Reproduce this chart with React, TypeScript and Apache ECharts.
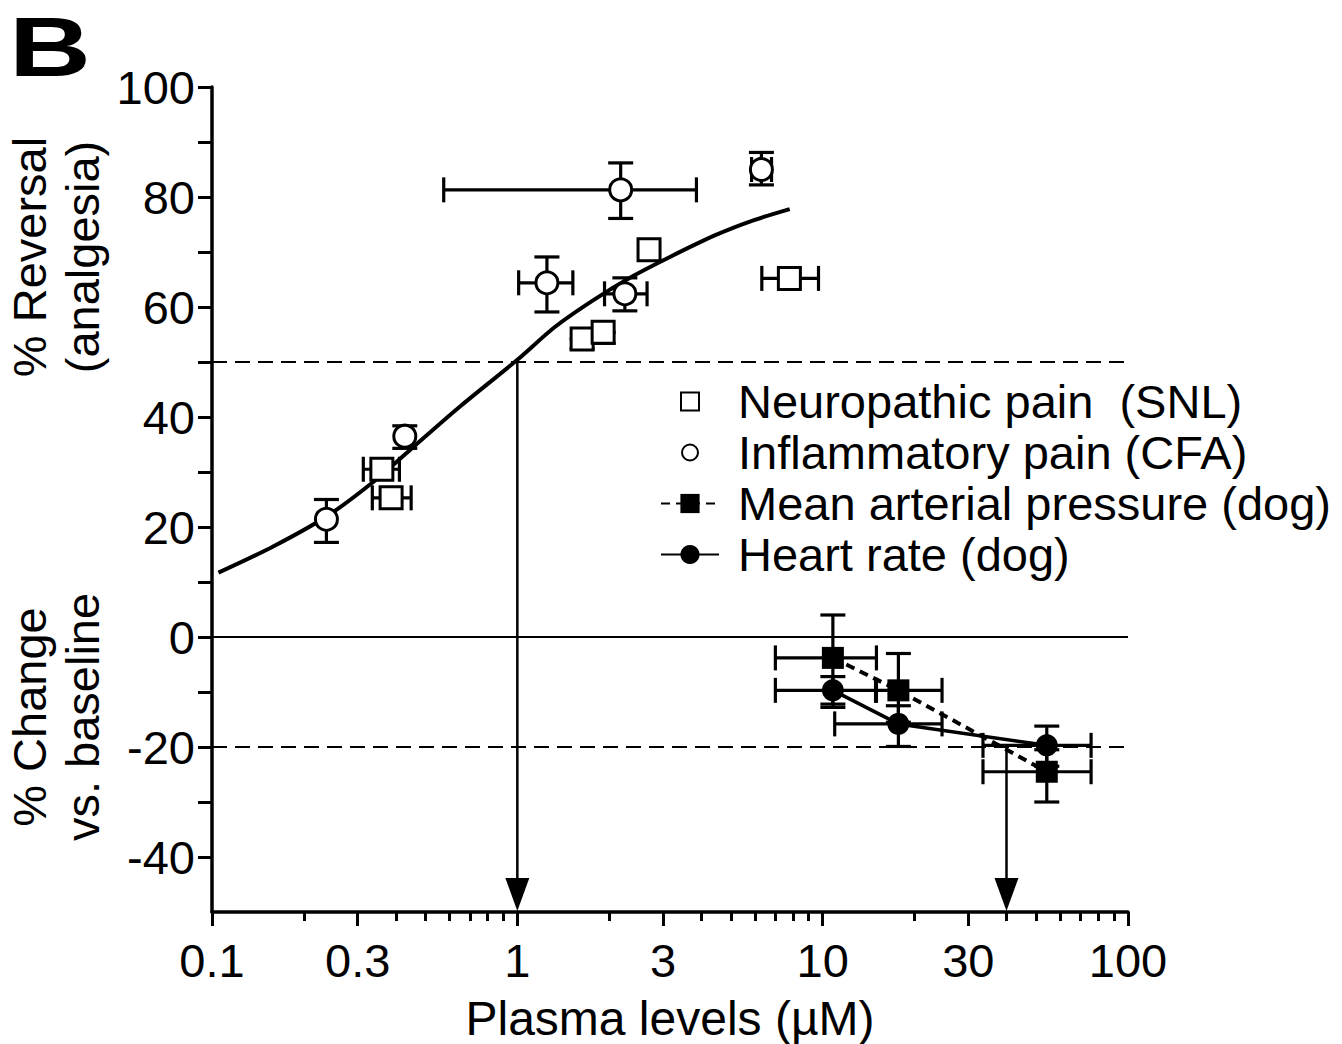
import React, { useEffect, useRef } from "react";
import * as echarts from "echarts";

const FONT = '"Liberation Sans", Arial, Helvetica, sans-serif';

// ---- axes ----
const xMin = 0.1;
const xMax = 100;
const yMin = -50;
const yMax = 100;
const xTickValues = [0.1, 0.3, 1, 3, 10, 30, 100];
const xMinorTickValues = [0.2, 0.4, 0.5, 0.6, 0.7, 0.8, 0.9, 2, 4, 5, 6, 7, 8, 9, 20, 40, 50, 60, 70, 80, 90];
const yTickValues = [-40, -30, -20, -10, 0, 10, 20, 30, 40, 50, 60, 70, 80, 90, 100];
const yLabelValues = [-40, -20, 0, 20, 40, 60, 80, 100];

// ---- fitted curve ----
const curveX = [0.105, 0.158, 0.237, 0.334, 0.447, 0.649, 1.0, 1.33, 1.78, 2.37, 3.16, 4.47, 5.96, 7.8];
const curveY = [11.7, 16.4, 21.9, 28.0, 34.1, 41.9, 50.4, 56.4, 61.3, 65.5, 69.1, 73.1, 75.8, 77.8];

// ---- Neuropathic pain (SNL) ----
const snlX = [0.36, 0.386, 1.63, 1.91, 2.7, 7.78];
const snlY = [30.5, 25.3, 54.2, 55.4, 70.4, 65.2];
const snlXLow = [0.313, 0.335, null, null, null, 6.32];
const snlXHigh = [0.411, 0.449, null, null, null, 9.69];
const snlYLow = [null, null, 52.4, 53.4, null, null];
const snlYHigh = [null, null, 54.2, 55.4, null, null];

// ---- Inflammatory pain (CFA) ----
const cfaX = [0.237, 0.428, 1.25, 2.18, 2.25, 6.3];
const cfaY = [21.4, 36.5, 64.4, 81.3, 62.4, 85.0];
const cfaXLow = [null, null, 1.01, 0.574, 1.93, 5.85];
const cfaXHigh = [null, null, 1.52, 3.86, 2.66, 6.8];
const cfaYLow = [17.2, 34.3, 59.1, 76.1, 59.3, 82.2];
const cfaYHigh = [25.0, 38.4, 69.1, 86.2, 65.3, 88.1];

// ---- Mean arterial pressure (dog) ----
const mapX = [10.8, 17.7, 54.2];
const mapY = [-3.8, -9.7, -24.5];
const mapXLow = [7.0, 14.9, 33.5];
const mapXHigh = [15.0, 24.6, 75.7];
const mapYLow = [-12.8, -15.5, -30.0];
const mapYHigh = [4.0, -3.0, -20.5];

// ---- Heart rate (dog) ----
const hrX = [10.8, 17.7, 54.2];
const hrY = [-9.7, -15.8, -19.7];
const hrXLow = [7.0, 10.95, 33.5];
const hrXHigh = [15.0, 24.6, 75.7];
const hrYLow = [-12.2, -19.9, -23.5];
const hrYHigh = [-7.2, -12.5, -16.2];

// ---- reference lines & arrows ----
const dashedLevels = [50, -20];
const solidLevel = 0;
const arrowX = [1, 40];
const arrowY = [50, -20];

const NAMES = {
  snl: "Neuropathic pain  (SNL)",
  cfa: "Inflammatory pain (CFA)",
  map: "Mean arterial pressure (dog)",
  hr: "Heart rate (dog)",
};

// legend icons with transparent margin so the open symbols stay small
const ICON_SQUARE = "path://M0,0M24,24M3,3h18v18h-18z";
const ICON_CIRCLE = "path://M0,0M24,24M4,12a8,8 0 1,0 16,0a8,8 0 1,0 -16,0z";

const nn = (v: number | null) => (v == null ? NaN : v);

function errRows(xs: number[], ys: number[], xl: (number | null)[], xh: (number | null)[], yl: (number | null)[], yh: (number | null)[]) {
  return xs.map((x, i) => [x, ys[i], nn(xl[i]), nn(xh[i]), nn(yl[i]), nn(yh[i])]);
}

const CAP = 12.5;

function renderErr(params: any, api: any) {
  const x = api.value(0);
  const y = api.value(1);
  const xl = api.value(2);
  const xh = api.value(3);
  const yl = api.value(4);
  const yh = api.value(5);
  const st = { stroke: "#000", lineWidth: 3.2, fill: null };
  const kids: any[] = [];
  const addLine = (x1: number, y1: number, x2: number, y2: number) =>
    kids.push({ type: "line", shape: { x1, y1, x2, y2 }, style: st });
  if (isFinite(xl) && isFinite(xh)) {
    const a = api.coord([xl, y]);
    const b = api.coord([xh, y]);
    addLine(a[0], a[1], b[0], b[1]);
    addLine(a[0], a[1] - CAP, a[0], a[1] + CAP);
    addLine(b[0], b[1] - CAP, b[0], b[1] + CAP);
  }
  if (isFinite(yl) && isFinite(yh)) {
    const a = api.coord([x, yl]);
    const b = api.coord([x, yh]);
    addLine(a[0], a[1], b[0], b[1]);
    addLine(a[0] - CAP, a[1], a[0] + CAP, a[1]);
    addLine(b[0] - CAP, b[1], b[0] + CAP, b[1]);
  }
  return { type: "group", children: kids };
}

function renderArrow(params: any, api: any) {
  const top = api.coord([api.value(0), api.value(1)]);
  const bot = api.coord([api.value(0), yMin]);
  const headL = 34;
  const headW = 24;
  return {
    type: "group",
    children: [
      {
        type: "line",
        shape: { x1: top[0], y1: top[1], x2: bot[0], y2: bot[1] - headL + 2 },
        style: { stroke: "#000", lineWidth: 2.5 },
      },
      {
        type: "polygon",
        shape: {
          points: [
            [bot[0], bot[1] - 1],
            [bot[0] - headW / 2, bot[1] - headL],
            [bot[0] + headW / 2, bot[1] - headL],
          ],
        },
        style: { fill: "#000" },
      },
    ],
  };
}

export default function App() {
  const ref = useRef<HTMLDivElement>(null);

  useEffect(() => {
    if (!ref.current) return;
    const chart = echarts.init(ref.current, undefined, { renderer: "svg" });

    const pair = (xs: number[], ys: number[]) => xs.map((x, i) => [x, ys[i]]);
    const errData = [
      ...errRows(snlX, snlY, snlXLow, snlXHigh, snlYLow, snlYHigh),
      ...errRows(cfaX, cfaY, cfaXLow, cfaXHigh, cfaYLow, cfaYHigh),
      ...errRows(mapX, mapY, mapXLow, mapXHigh, mapYLow, mapYHigh),
      ...errRows(hrX, hrY, hrXLow, hrXHigh, hrYLow, hrYHigh),
    ];

    const axisLabelStyle = { fontFamily: FONT, fontSize: 47, color: "#000" };

    const option: any = {
      animation: false,
      backgroundColor: "#fff",
      grid: { left: 212, top: 87, width: 916, height: 825, containLabel: false, outerBoundsMode: "none" },
      xAxis: [
        {
          type: "log",
          logBase: 10,
          min: xMin,
          max: xMax,
          position: "bottom",
          axisLine: { show: true, onZero: false, lineStyle: { color: "#000", width: 3.5 } },
          axisTick: { show: true, length: 14, lineStyle: { color: "#000", width: 3 }, customValues: xTickValues },
          axisLabel: {
            ...axisLabelStyle,
            margin: 25,
            customValues: xTickValues,
            formatter: (v: number) => String(+Number(v).toPrecision(3)),
          },
          minorTick: { show: false },
          splitLine: { show: false },
          name: "Plasma levels (µM)",
          nameLocation: "middle",
          nameGap: 82,
          nameTextStyle: { fontFamily: FONT, fontSize: 48, color: "#000" },
        },
        {
          type: "log",
          logBase: 10,
          min: xMin,
          max: xMax,
          position: "bottom",
          gridIndex: 0,
          axisLine: { show: false, onZero: false },
          axisTick: { show: true, length: 9, lineStyle: { color: "#000", width: 3 }, customValues: xMinorTickValues },
          axisLabel: { show: false },
          splitLine: { show: false },
        },
      ],
      yAxis: {
        type: "value",
        min: yMin,
        max: yMax,
        interval: 10,
        axisLine: { show: true, onZero: false, lineStyle: { color: "#000", width: 3.5 } },
        axisTick: { show: true, length: 14, lineStyle: { color: "#000", width: 3 }, customValues: yTickValues },
        axisLabel: {
          ...axisLabelStyle,
          margin: 17,
          customValues: yLabelValues,
          formatter: (v: number) => (v % 20 === 0 ? String(v) : ""),
        },
        splitLine: { show: false },
      },
      legend: {
        data: [
          { name: NAMES.snl, icon: ICON_SQUARE },
          { name: NAMES.cfa, icon: ICON_CIRCLE },
          { name: NAMES.map },
          { name: NAMES.hr },
        ],
        orient: "vertical",
        left: 660,
        top: 378,
        padding: 0,
        itemWidth: 58,
        itemHeight: 24,
        itemGap: 4,
        symbolKeepAspect: true,
        selectedMode: false,
        textStyle: { fontFamily: FONT, fontSize: 47, color: "#000", lineHeight: 47, padding: [0, 0, 0, 14] },
      },
      graphic: [
        {
          type: "text",
          x: 9,
          y: 47,
          scaleX: 1.35,
          style: {
            text: "B",
            fontSize: 84,
            lineHeight: 70,
            fontWeight: "bold",
            fontFamily: FONT,
            fill: "#000",
            align: "left",
            verticalAlign: "middle",
          },
        },
        {
          type: "text",
          x: 56,
          y: 257,
          rotation: Math.PI / 2,
          style: { text: "% Reversal\n(analgesia)", fontSize: 47, lineHeight: 53, fontFamily: FONT, fill: "#000", align: "center", verticalAlign: "middle" },
        },
        {
          type: "text",
          x: 56,
          y: 717,
          rotation: Math.PI / 2,
          style: { text: "% Change\nvs. baseline", fontSize: 47, lineHeight: 53, fontFamily: FONT, fill: "#000", align: "center", verticalAlign: "middle" },
        },
      ],
      series: [
        {
          name: "fit",
          type: "line",
          data: pair(curveX, curveY),
          smooth: 0.3,
          symbol: "none",
          z: 2,
          lineStyle: { color: "#000", width: 4 },
          markLine: {
            silent: true,
            symbol: "none",
            label: { show: false },
            data: [
              ...dashedLevels.map((v) => ({ yAxis: v, lineStyle: { color: "#000", width: 2, type: [15, 8] } })),
              { yAxis: solidLevel, lineStyle: { color: "#000", width: 2, type: "solid" } },
            ],
          },
        },
        {
          name: "arrows",
          type: "custom",
          data: pair(arrowX, arrowY),
          renderItem: renderArrow,
          clip: false,
          z: 2,
          encode: { x: 0, y: 1 },
        },
        {
          name: "errorBars",
          type: "custom",
          data: errData,
          dimensions: ["x", "y", "xl", "xh", "yl", "yh"],
          encode: { x: 0, y: 1 },
          renderItem: renderErr,
          clip: false,
          z: 1,
        },
        {
          name: NAMES.snl,
          type: "scatter",
          data: pair(snlX, snlY),
          symbol: "rect",
          symbolSize: 22,
          symbolKeepAspect: true,
          z: 4,
          itemStyle: { color: "#fff", borderColor: "#000", borderWidth: 3, opacity: 1 },
        },
        {
          name: NAMES.cfa,
          type: "scatter",
          data: pair(cfaX, cfaY),
          symbol: "circle",
          symbolSize: 22,
          symbolKeepAspect: true,
          z: 4,
          itemStyle: { color: "#fff", borderColor: "#000", borderWidth: 3, opacity: 1 },
        },
        {
          name: NAMES.map,
          type: "line",
          data: pair(mapX, mapY),
          symbol: "rect",
          symbolSize: 22,
          showAllSymbol: true,
          z: 3,
          lineStyle: { color: "#000", width: 4, type: [9, 6] },
          itemStyle: { color: "#000" },
        },
        {
          name: NAMES.hr,
          type: "line",
          data: pair(hrX, hrY),
          symbol: "circle",
          symbolSize: 22,
          showAllSymbol: true,
          z: 3,
          lineStyle: { color: "#000", width: 3.5 },
          itemStyle: { color: "#000" },
        },
      ],
    };

    chart.setOption(option);
    return () => chart.dispose();
  }, []);

  return (
    <div
      ref={ref}
      style={{ position: "fixed", left: 0, top: 0, width: 1342, height: 1044, background: "#fff" }}
    />
  );
}
